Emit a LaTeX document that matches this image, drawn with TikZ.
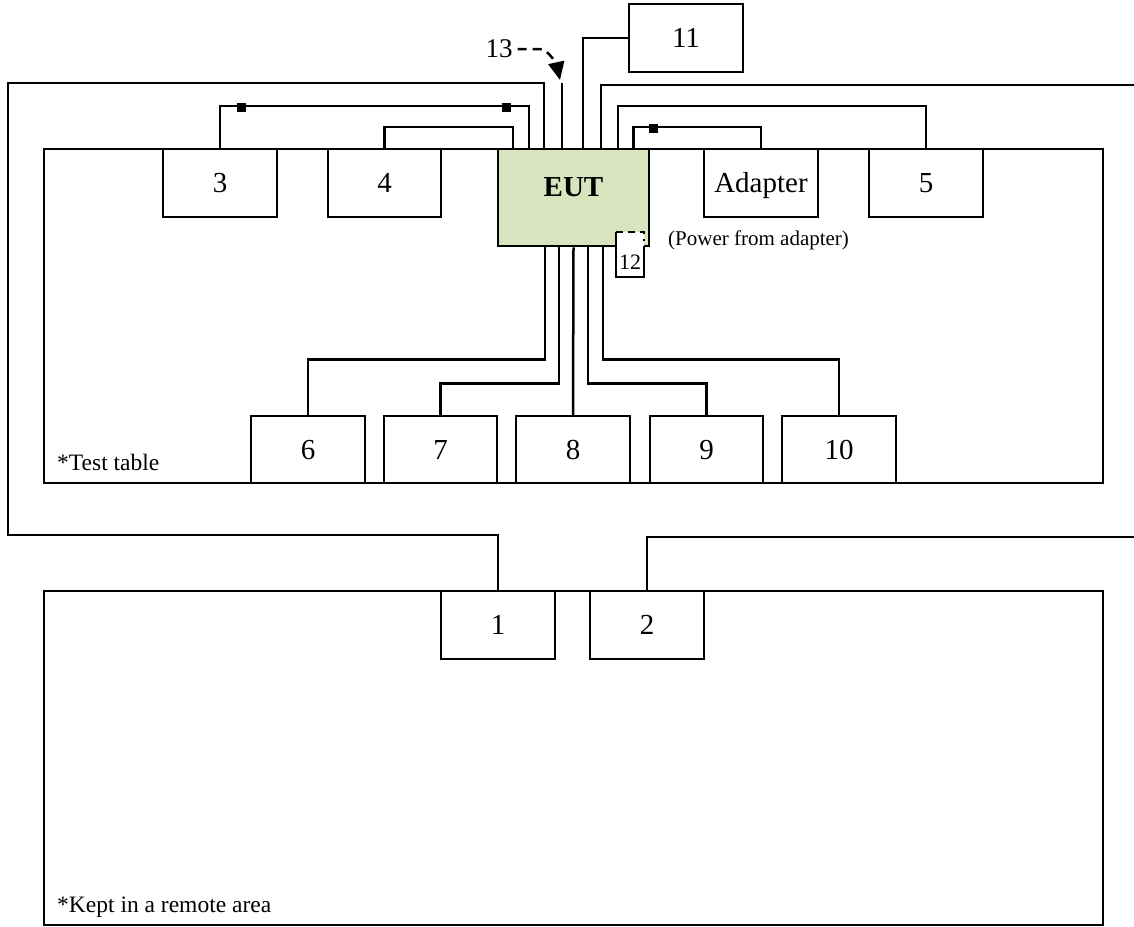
\documentclass[tikz,border=0pt]{standalone}
\usepackage{fontspec}
\setmainfont{Liberation Serif}
\usetikzlibrary{arrows.meta}
\definecolor{eutgreen}{RGB}{215,228,189}
\begin{document}
\begin{tikzpicture}[x=1pt,y=-1pt,
  box/.style={draw,line width=2.5pt,fill=white,inner sep=0pt,minimum width=114pt,minimum height=68pt,text height=19pt,text depth=0pt,font=\fontsize{29}{31}\selectfont},
  area/.style={draw,line width=2.5pt,inner sep=0pt,minimum width=1059pt,minimum height=334pt},
  cable/.style={line width=2.5pt},
  ferrite/.style={fill=black,inner sep=0pt,minimum size=9pt},
  note/.style={font=\fontsize{23.5}{26}\selectfont,anchor=base west,inner sep=0pt},
  small/.style={font=\fontsize{21}{23}\selectfont,inner sep=0pt}]
\useasboundingbox (0,0) rectangle (1134,926);
% areas
\node[area] (table) at (573.5,316) {};
\node[area] (remote) at (573.5,758) {};
\node[note] (tabletxt) at (57,470) {*Test table};
\node[note] (remotetxt) at (57,912) {*Kept in a remote area};
% free ends
\coordinate (exitR1) at (1134,85);
\coordinate (exitR2) at (1134,537);
% boxes
\node[box,minimum width=151pt,minimum height=97pt,fill=eutgreen] (eut) at (573.5,197.5) {\raisebox{11pt}{\textbf{EUT}}};
\node[box] (b3) at (220,183) {3};
\node[box,minimum width=113pt] (b4) at (384.5,183) {4};
\node[box] (adapter) at (761,183) {Adapter};
\node[box] (b5) at (926,183) {5};
\node[box] (b11) at (686,38) {11};
\node[box,minimum height=67pt] (b6) at (308,449.5) {6};
\node[box,minimum height=67pt,minimum width=113pt] (b7) at (440.5,449.5) {7};
\node[box,minimum height=67pt] (b8) at (573,449.5) {8};
\node[box,minimum height=67pt,minimum width=113pt] (b9) at (706.5,449.5) {9};
\node[box,minimum height=67pt] (b10) at (839,449.5) {10};
\node[box] (b1) at (498,625) {1};
\node[box] (b2) at (647,625) {2};
% cables on top
\draw[cable] ([xshift=-29.5pt]eut.north) -- ++(0,-65) -| (8,535) -| (b1.north);
\draw[cable] ([xshift=27.5pt]eut.north) |- (exitR1);
\draw[cable] (exitR2) -| (b2.north);
\draw[cable] ([xshift=9.5pt]eut.north) |- (b11.west);
\draw[cable] ([xshift=-11.5pt]eut.north) -- ++(0,-65) coordinate (c13);
\draw[cable] (b3.north) -- ++(0,-42) -| ([xshift=-44.5pt]eut.north);
\draw[cable] (b4.north) -- ++(0,-21) -| ([xshift=-60.5pt]eut.north);
\draw[cable] (b5.north) -- ++(0,-42) -| ([xshift=44.5pt]eut.north);
\draw[cable] (adapter.north) -- ++(0,-21) -| ([xshift=60pt]eut.north);
\node[ferrite] (f1) at (241,107) {};
\node[ferrite] (f2) at (506,107) {};
\node[ferrite] (f3) at (653,128) {};
% cables below
\draw[cable] ([xshift=-28.5pt]eut.south) -- ++(0,112) -| (b6.north);
\draw[cable] ([xshift=-14.5pt]eut.south) -- ++(0,136) -| (b7.north);
\draw[cable] (eut.south) -- (b8.north);
\draw[cable] ([xshift=14.5pt]eut.south) -- ++(0,136) -| (b9.north);
\draw[cable] ([xshift=29.5pt]eut.south) -- ++(0,112) -| (b10.north);
% item 12
\node[fill=white,inner sep=0pt,minimum width=28pt,minimum height=45pt] (b12) at (630,254.5) {};
\draw[cable] (b12.north west) -- (b12.south west) -- (b12.south east) -- ++(0,-31);
\draw[cable,dash pattern=on 7pt off 5pt] (b12.north west) -- (b12.north east) -- ++(0,9);
\node[small,font=\fontsize{22}{24}\selectfont] (l12) at (630,262) {12};
\node[small,anchor=west] (pwr) at (668,240) {(Power from adapter)};
% item 13
\node[font=\fontsize{27}{29}\selectfont,inner sep=0pt] (l13) at (499,49) {13};
\coordinate (tip13) at (560,80);
\draw[cable,dash pattern=on 9pt off 6pt,-{Triangle[width=16pt,length=18pt]}] ([xshift=5pt]l13.east) -- ++(22,0) .. controls +(9,0) and +(-3,-14) .. (tip13);
\end{tikzpicture}
\end{document}
